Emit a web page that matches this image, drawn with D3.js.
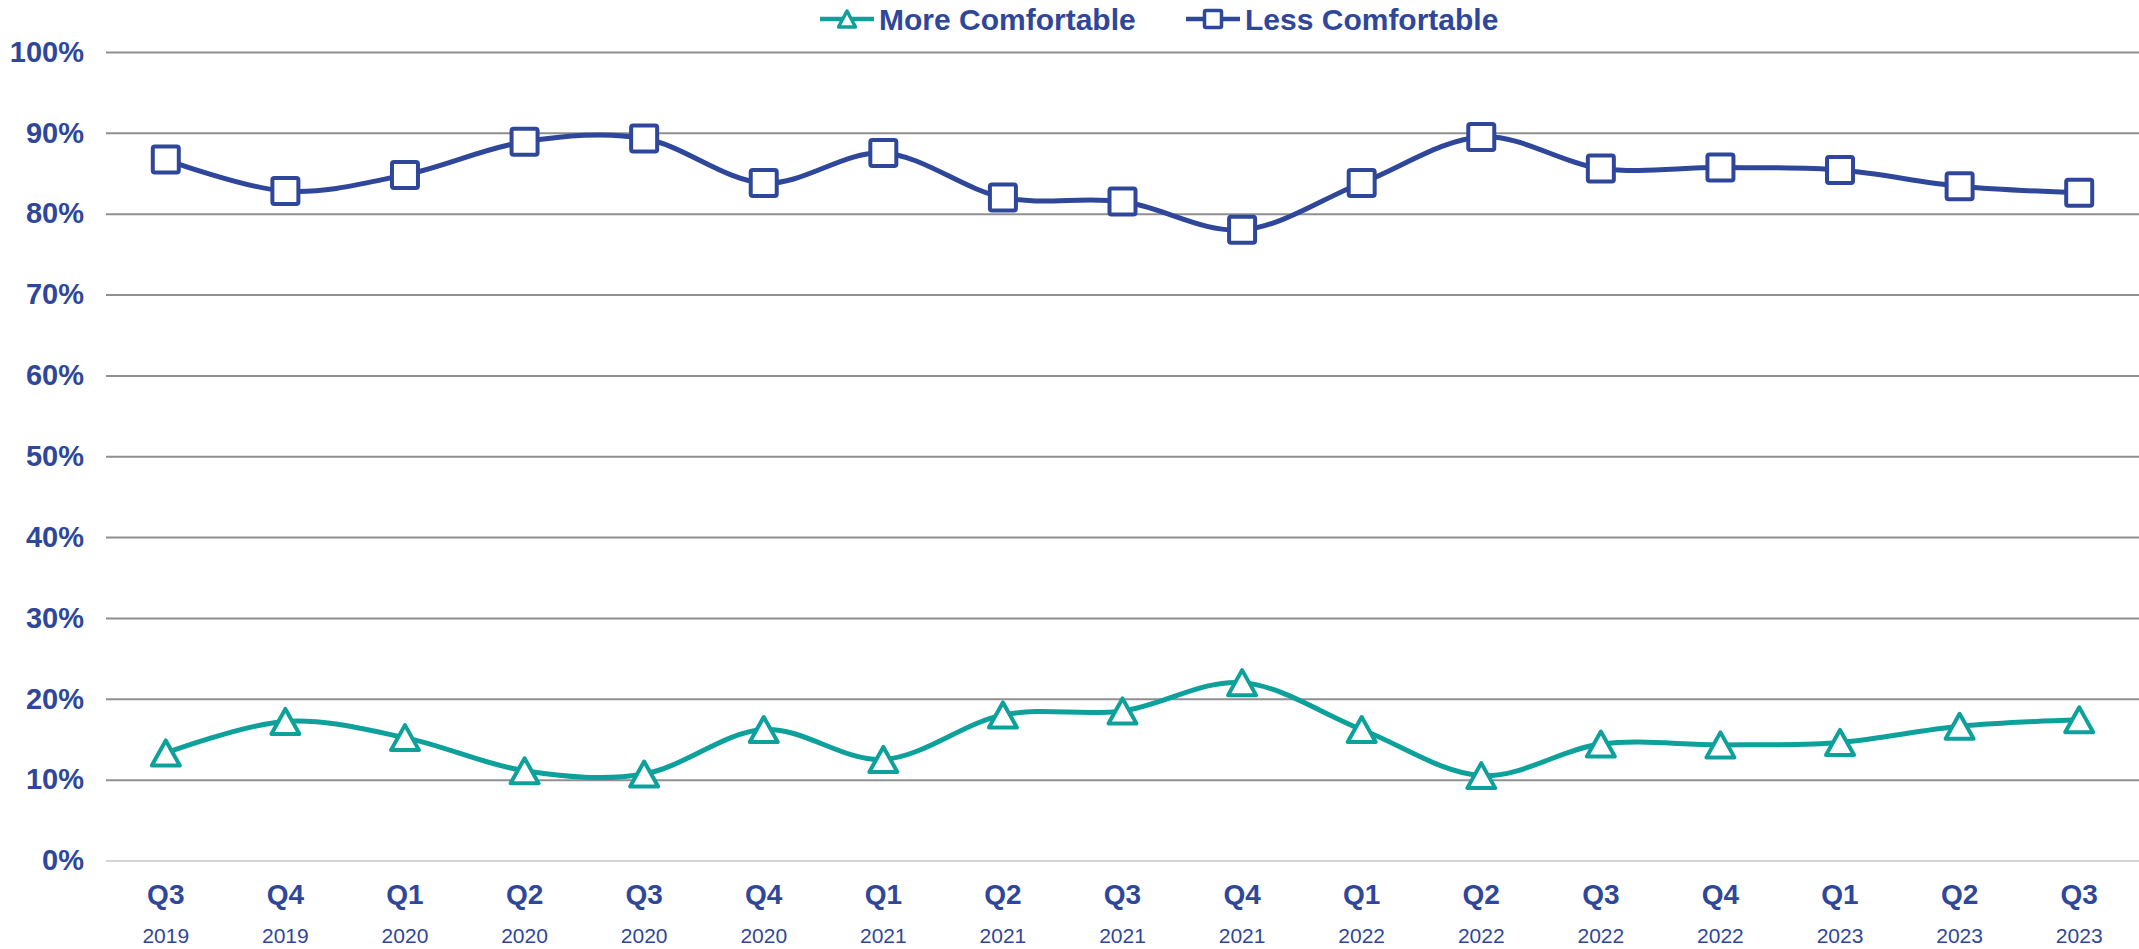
<!DOCTYPE html>
<html>
<head>
<meta charset="utf-8">
<script src="https://cdn.jsdelivr.net/npm/d3@7"></script>
<style>
  body { margin: 0; background: #fff; }
  svg text { font-family: "Liberation Sans", Arial, sans-serif; fill: #2f479b; }
</style>
</head>
<body>
<div id="chart"></div>
<script>
const quarters = ["Q3", "Q4", "Q1", "Q2", "Q3", "Q4", "Q1", "Q2", "Q3", "Q4", "Q1", "Q2", "Q3", "Q4", "Q1", "Q2", "Q3"];
const years = ["2019", "2019", "2020", "2020", "2020", "2020", "2021", "2021", "2021", "2021", "2022", "2022", "2022", "2022", "2023", "2023", "2023"];
const moreComfortable = [13.3, 17.2, 15.2, 11.1, 10.7, 16.2, 12.5, 18.0, 18.5, 22.0, 16.2, 10.5, 14.4, 14.3, 14.6, 16.6, 17.4];
const lessComfortable = [86.7, 82.8, 84.8, 88.9, 89.3, 83.8, 87.5, 82.0, 81.5, 78.0, 83.8, 89.5, 85.6, 85.7, 85.4, 83.4, 82.6];
const yTicks = [0, 10, 20, 30, 40, 50, 60, 70, 80, 90, 100];

const width = 2139, height = 949;
const plotLeft = 106, plotRight = 2139, plotTop = 52, plotBottom = 860.5;
const navy = "#2f479b", teal = "#0ea19b";

const svg = d3.select("#chart").append("svg")
    .attr("width", width)
    .attr("height", height);

const x = d3.scalePoint()
    .domain(d3.range(quarters.length))
    .range([plotLeft, plotRight])
    .padding(0.5);

const y = d3.scaleLinear()
    .domain([0, 100])
    .range([plotBottom, plotTop]);

// gridlines + y labels
const yAxis = d3.axisLeft(y)
    .tickValues(yTicks)
    .tickSize(-(plotRight - plotLeft))
    .tickPadding(22)
    .tickFormat(d => d + "%");

const gy = svg.append("g")
    .attr("transform", "translate(" + plotLeft + ",0)")
    .call(yAxis);
gy.select(".domain").remove();
gy.selectAll(".tick line")
    .attr("stroke", d => d === 0 ? "#d4d4d4" : "#8f8f8f")
    .attr("stroke-width", 2);
gy.selectAll(".tick text")
    .attr("font-size", 29)
    .attr("font-weight", "bold")
    .attr("fill", navy)
    .attr("font-family", "Liberation Sans, Arial, sans-serif");

// x labels
const gx = svg.append("g");
gx.selectAll("text.q")
    .data(quarters)
    .enter()
    .append("text")
    .attr("class", "q")
    .attr("x", (d, i) => x(i))
    .attr("y", 904)
    .attr("text-anchor", "middle")
    .attr("font-size", 28)
    .attr("font-weight", "bold")
    .text(d => d);
gx.selectAll("text.yr")
    .data(years)
    .enter()
    .append("text")
    .attr("class", "yr")
    .attr("x", (d, i) => x(i))
    .attr("y", 943)
    .attr("text-anchor", "middle")
    .attr("font-size", 21)
    .text(d => d);

const line = d3.line()
    .x((d, i) => x(i))
    .y(d => y(d))
    .curve(d3.curveCardinal.tension(0));

const triPath = (w, h) => "M0," + (-h / 2) + "L" + (w / 2) + "," + (h / 2) + "L" + (-w / 2) + "," + (h / 2) + "Z";

// More Comfortable
svg.append("path")
    .datum(moreComfortable)
    .attr("fill", "none")
    .attr("stroke", teal)
    .attr("stroke-width", 5)
    .attr("d", line);
svg.selectAll("path.tri")
    .data(moreComfortable)
    .enter()
    .append("path")
    .attr("class", "tri")
    .attr("transform", (d, i) => "translate(" + x(i) + "," + y(d) + ")")
    .attr("d", triPath(28, 25))
    .attr("fill", "#fff")
    .attr("stroke", teal)
    .attr("stroke-width", 4)
    .attr("stroke-linejoin", "round");

// Less Comfortable
svg.append("path")
    .datum(lessComfortable)
    .attr("fill", "none")
    .attr("stroke", navy)
    .attr("stroke-width", 5)
    .attr("d", line);
svg.selectAll("rect.sq")
    .data(lessComfortable)
    .enter()
    .append("rect")
    .attr("class", "sq")
    .attr("x", (d, i) => x(i) - 13)
    .attr("y", d => y(d) - 13)
    .attr("width", 26)
    .attr("height", 26)
    .attr("rx", 2)
    .attr("fill", "#fff")
    .attr("stroke", navy)
    .attr("stroke-width", 4);

// legend
const legend = svg.append("g").attr("transform", "translate(0,19)");
const leg1 = legend.append("g").attr("transform", "translate(820,0)");
leg1.append("line").attr("x1", 0).attr("x2", 54).attr("stroke", teal).attr("stroke-width", 4.5);
leg1.append("path").attr("transform", "translate(27,0)").attr("d", triPath(17, 16))
    .attr("fill", "#fff").attr("stroke", teal).attr("stroke-width", 3.5).attr("stroke-linejoin", "round");
leg1.append("text").attr("x", 59).attr("y", 10.5).attr("font-size", 30).attr("font-weight", "bold").text("More Comfortable");

const leg2 = legend.append("g").attr("transform", "translate(1186,0)");
leg2.append("line").attr("x1", 0).attr("x2", 54).attr("stroke", navy).attr("stroke-width", 4.5);
leg2.append("rect").attr("x", 18.5).attr("y", -8.5).attr("width", 17).attr("height", 17).attr("rx", 1.5)
    .attr("fill", "#fff").attr("stroke", navy).attr("stroke-width", 3.5);
leg2.append("text").attr("x", 59).attr("y", 10.5).attr("font-size", 30).attr("font-weight", "bold").text("Less Comfortable");
</script>
</body>
</html>
